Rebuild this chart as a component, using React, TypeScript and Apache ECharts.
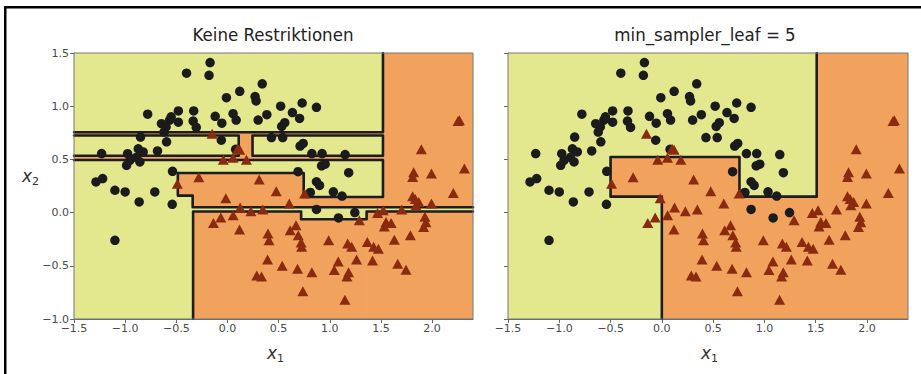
import React, { useEffect, useRef } from "react";
import * as echarts from "echarts";

// ---------- data ----------
const xRange: [number, number] = [-1.5, 2.4];
const yRange: [number, number] = [-1.0, 1.5];
const tickStep = 0.5;

const titles = ["Keine Restriktionen", "min_sampler_leaf = 5"];

// class 0 (circles)
const circles: [number, number][] = [
  [-0.17, 1.41], [-0.4, 1.31], [-0.18, 1.29], [0.34, 1.21], [0.12, 1.14], [-0.01, 1.08],
  [0.27, 1.09], [0.28, 1.05], [0.52, 1.0], [0.73, 1.03], [0.87, 0.99],
  [-0.78, 0.925], [-0.48, 0.955], [-0.33, 0.955], [-0.12, 0.905], [0.055, 0.93], [0.085, 0.87],
  [-0.055, 0.84], [0.3, 0.87], [0.385, 0.92], [0.635, 0.94], [0.56, 0.845], [0.53, 0.81], [0.705, 0.885],
  [-0.565, 0.87], [-0.55, 0.9], [-0.645, 0.836], [-0.6, 0.805], [-0.62, 0.757], [-0.48, 0.85],
  [-0.335, 0.86], [-0.305, 0.8],
  [-0.85, 0.71], [-0.595, 0.665], [-0.06, 0.68], [0.43, 0.705], [0.54, 0.705], [0.71, 0.625], [0.74, 0.65],
  [0.825, 0.555], [0.925, 0.555], [1.15, 0.545], [0.92, 0.44], [0.955, 0.455], [1.185, 0.375], [0.69, 0.385],
  [0.87, 0.29], [0.9, 0.255], [0.81, 0.19], [1.035, 0.195], [1.12, 0.155], [0.87, 0.03], [1.085, -0.05], [1.245, 0.0],
  [-1.23, 0.555], [-0.976, 0.554], [-0.954, 0.49], [-0.89, 0.52], [-0.872, 0.6], [-0.824, 0.57],
  [-0.856, 0.476], [-0.986, 0.444], [-0.684, 0.58],
  [-0.537, 0.388], [-1.285, 0.288], [-1.22, 0.32], [-1.1, 0.21], [-1.0, 0.194], [-0.71, 0.194],
  [-0.863, 0.1], [-0.54, 0.078], [-1.1, -0.26], [0.08, 0.595],
];

// class 1 (triangles)
const triangles: [number, number][] = [
  [-0.15, 0.742], [0.1, 0.6], [0.12, 0.59], [-0.04, 0.497], [0.055, 0.515], [0.185, 0.497],
  [-0.28, 0.333], [-0.49, 0.272], [0.31, 0.31], [0.477, 0.2], [0.754, 0.18], [0.604, 0.085], [-0.016, 0.135],
  [0.124, 0.047], [0.229, 0.013], [0.346, 0.028], [0.056, -0.025], [-0.065, -0.047], [-0.137, -0.097], [0.118, -0.16],
  [0.396, -0.197], [0.406, -0.26], [0.613, -0.166], [0.692, -0.213], [0.67, -0.12], [0.725, -0.32], [0.72, -0.28],
  [0.989, -0.26], [1.175, -0.29], [1.214, -0.32], [1.262, -0.44], [1.367, -0.276], [1.429, -0.32], [1.475, -0.34],
  [1.631, -0.254], [1.788, -0.213], [1.664, -0.48], [1.745, -0.536], [1.418, -0.45], [1.083, -0.46], [1.044, -0.54],
  [1.184, -0.56], [1.168, -0.6], [0.825, -0.56], [0.685, -0.527], [0.535, -0.5], [0.392, -0.44], [0.287, -0.59], [0.333, -0.6],
  [0.737, -0.74], [1.148, -0.82], [1.289, -0.072], [1.467, -0.003], [1.523, 0.022], [1.55, -0.088], [1.6, -0.097], [1.533, -0.13],
  [1.703, 0.028], [1.81, 0.154], [1.836, 0.128], [1.87, 0.1], [1.843, 0.07], [1.994, 0.085], [1.93, -0.04], [1.94, -0.09], [1.917, -0.135],
  [1.81, 0.335], [1.82, 0.38], [1.994, 0.367], [1.895, 0.596], [2.208, 0.185], [2.316, 0.414], [2.254, 0.862], [2.267, 0.868],
];

// predicted class-1 regions, [x0, x1, y0, y1]
const leftOrange: [number, number, number, number][] = [
  [1.52, 2.4, 0.05, 1.5],
  [-1.5, 1.52, 0.725, 0.755],
  [-1.5, 1.52, 0.495, 0.535],
  [0.11, 0.245, 0.535, 0.725],
  [-0.485, 0.745, 0.16, 0.372],
  [-0.34, 0.745, 0.05, 0.16],
  [0.745, 1.52, 0.05, 0.147],
  [-0.336, 0.72, -1.0, 0.01],
  [0.72, 1.36, -1.0, -0.063],
  [1.36, 2.4, -1.0, 0.01],
];
const rightOrange: [number, number, number, number][] = [
  [0.0, 2.4, -1.0, 0.15],
  [-0.5, 0.757, 0.15, 0.523],
  [1.51, 2.4, 0.15, 1.5],
];

// decision boundaries
const leftBoundaries: [number, number][][] = [
  [[-1.5, 0.755], [1.52, 0.755], [1.52, 1.5]],
  [[-1.5, 0.725], [0.11, 0.725], [0.11, 0.535], [-1.5, 0.535]],
  [[1.52, 0.725], [0.245, 0.725], [0.245, 0.535], [1.52, 0.535], [1.52, 0.725]],
  [[-1.5, 0.495], [1.52, 0.495], [1.52, 0.147], [0.745, 0.147], [0.745, 0.372], [-0.485, 0.372],
   [-0.485, 0.16], [-0.34, 0.16], [-0.34, 0.05], [2.4, 0.05]],
  [[2.4, 0.01], [1.36, 0.01], [1.36, -0.063], [0.72, -0.063], [0.72, 0.01], [-0.336, 0.01], [-0.336, -1.0]],
];
const rightBoundaries: [number, number][][] = [
  [[0.0, -1.0], [0.0, 0.15], [-0.5, 0.15], [-0.5, 0.523], [0.757, 0.523], [0.757, 0.15], [1.51, 0.15], [1.51, 1.5]],
];

// ---------- style ----------
const YELLOW = "#e3e88f";
const ORANGE = "#f1a35e";
const LINE = "#1d1d1d";
const CIRCLE = "#1b1b1b";
const TRI = "#8a2b10";
const TICKFONT = "DejaVu Sans";
const TITLEFONT = '"DejaVu Sans Condensed", "Liberation Sans", sans-serif';

const grids = [
  { left: 74, top: 53, width: 399, height: 266 },
  { left: 508, top: 53, width: 400, height: 266 },
];

const fmt = (v: number) => {
  const s = Math.abs(v).toFixed(1);
  return v < -1e-9 ? "\u2212" + s : s;
};
const onStep = (v: number) => Math.abs(v / tickStep - Math.round(v / tickStep)) < 1e-6;

function rectSeries(i: number, rects: [number, number, number, number][], color: string, z: number) {
  return {
    type: "custom",
    xAxisIndex: i,
    yAxisIndex: i,
    data: rects,
    silent: true,
    clip: true,
    z,
    encode: { x: [0, 1], y: [2, 3] },
    renderItem: (_p: any, api: any) => {
      const a = api.coord([api.value(0), api.value(3)]);
      const b = api.coord([api.value(1), api.value(2)]);
      return {
        type: "rect",
        shape: { x: a[0], y: a[1], width: b[0] - a[0], height: b[1] - a[1] },
        style: { fill: color, stroke: color, lineWidth: 0.6 },
      };
    },
  };
}

export default function App() {
  const ref = useRef<HTMLDivElement>(null);
  useEffect(() => {
    if (!ref.current) return;
    const chart = echarts.init(ref.current, undefined, { renderer: "svg" });
    const series: any[] = [];
    const panels = [
      { orange: leftOrange, bounds: leftBoundaries },
      { orange: rightOrange, bounds: rightBoundaries },
    ];
    panels.forEach((p, i) => {
      series.push(rectSeries(i, [[xRange[0], xRange[1], yRange[0], yRange[1]]], YELLOW, 1));
      series.push(rectSeries(i, p.orange, ORANGE, 2));
      p.bounds.forEach((pts) => {
        series.push({
          type: "line",
          xAxisIndex: i,
          yAxisIndex: i,
          data: pts,
          symbol: "none",
          silent: true,
          clip: true,
          z: 3,
          lineStyle: { color: LINE, width: 2.6, join: "round", cap: "round" },
        });
      });
      series.push({
        type: "scatter",
        xAxisIndex: i,
        yAxisIndex: i,
        data: circles,
        symbol: "circle",
        symbolSize: 9.5,
        itemStyle: { color: CIRCLE, opacity: 1 },
        silent: true,
        z: 4,
      });
      series.push({
        type: "scatter",
        xAxisIndex: i,
        yAxisIndex: i,
        data: triangles,
        symbol: "triangle",
        symbolSize: [11, 10],
        itemStyle: { color: TRI, opacity: 1 },
        silent: true,
        z: 4,
      });
    });

    const xAxes = grids.map((_, i) => ({
      type: "value",
      gridIndex: i,
      min: xRange[0],
      max: xRange[1],
      interval: tickStep,
      axisLine: { show: true, onZero: false, lineStyle: { color: "#666", width: 1 } },
      axisTick: { show: true, length: 4, lineStyle: { color: "#666" } },
      axisLabel: {
        formatter: (v: number) => (onStep(v) ? fmt(v) : ""),
        color: "#4a4a4a",
        fontSize: 11,
        fontFamily: TICKFONT,
        margin: 4,
        showMaxLabel: false,
      },
      splitLine: { show: false },
    }));
    const yAxes = grids.map((_, i) => ({
      type: "value",
      gridIndex: i,
      min: yRange[0],
      max: yRange[1],
      interval: tickStep,
      axisLine: { show: true, onZero: false, lineStyle: { color: "#666", width: 1 } },
      axisTick: { show: true, length: 4, lineStyle: { color: "#666" } },
      axisLabel: {
        show: i === 0,
        formatter: (v: number) => fmt(v),
        color: "#4a4a4a",
        fontSize: 11,
        fontFamily: TICKFONT,
        margin: 5,
      },
      splitLine: { show: false },
    }));

    const xLabel = (cx: number, cy: number, sub: string) => [
      {
        type: "text",
        x: cx - 1,
        y: cy,
        style: {
          text: "x",
          font: "italic 17px DejaVu Sans",
          fill: "#333",
          textAlign: "right",
          textVerticalAlign: "middle",
        },
      },
      {
        type: "text",
        x: cx - 1,
        y: cy + 5,
        style: {
          text: sub,
          font: "11px DejaVu Sans",
          fill: "#333",
          textAlign: "left",
          textVerticalAlign: "middle",
        },
      },
    ];

    chart.setOption({
      animation: false,
      backgroundColor: "#fff",
      grid: grids.map((g) => ({
        ...g,
        show: true,
        backgroundColor: "transparent",
        borderColor: "#777",
        borderWidth: 1,
        z: 5,
      })),
      xAxis: xAxes,
      yAxis: yAxes,
      series,
      graphic: [
        { type: "rect", shape: { x: 4, y: 6, width: 2.5, height: 368 }, style: { fill: "#000" } },
        { type: "rect", shape: { x: 4, y: 6, width: 917, height: 2.5 }, style: { fill: "#000" } },
        {
          type: "text",
          x: 273,
          y: 34,
          style: { text: titles[0], font: `18.5px ${TITLEFONT}`, fill: "#222", textAlign: "center", textVerticalAlign: "middle" },
        },
        {
          type: "text",
          x: 705,
          y: 34,
          style: { text: titles[1], font: `18.5px ${TITLEFONT}`, fill: "#222", textAlign: "center", textVerticalAlign: "middle" },
        },
        ...xLabel(278, 353, "1"),
        ...xLabel(712, 353, "1"),
        ...xLabel(33, 176, "2"),
      ],
    });
    return () => chart.dispose();
  }, []);
  return <div ref={ref} style={{ position: "fixed", left: 0, top: 0, width: 921, height: 374 }} />;
}
